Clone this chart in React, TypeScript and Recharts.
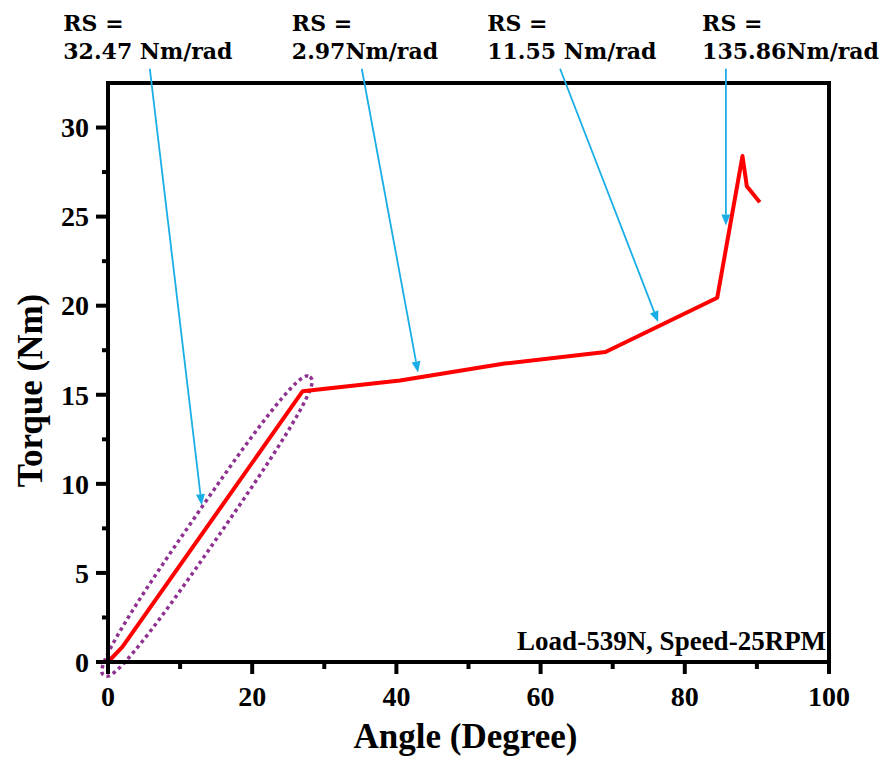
import React from 'react';
import {
  LineChart,
  Line,
  XAxis,
  YAxis,
  ReferenceLine,
  ReferenceArea,
  ReferenceDot,
  Label,
} from 'recharts';

// ---- data ----
const angle = [0, 2, 27, 40.5, 55, 69, 84.5, 88, 88.6, 90.4];
const torque = [0, 0.85, 15.2, 15.8, 16.75, 17.4, 20.45, 28.4, 26.7, 25.8];

const xTicks = [0, 10, 20, 30, 40, 50, 60, 70, 80, 90, 100];
const xMajor = [0, 20, 40, 60, 80, 100];
const yTicks = [0, 2.5, 5, 7.5, 10, 12.5, 15, 17.5, 20, 22.5, 25, 27.5, 30];
const yMajor = [0, 5, 10, 15, 20, 25, 30];

const rsTitle = 'RS =';
const rsValues = ['32.47 Nm/rad', '2.97Nm/rad', '11.55 Nm/rad', '135.86Nm/rad'];
const rsLabelX = [-6.2, 25.5, 52.6, 82.4];
const rsLabelY = 35.4;

const arrowFromX = [5.8, 35.2, 62.7, 85.7];
const arrowFromY = [33.3, 33.3, 33.3, 33.3];
const arrowToX = [13.0, 43.0, 76.3, 85.7];
const arrowToY = [8.8, 16.25, 19.08, 24.5];

const ellipseFrom = { x: -0.55, y: -0.75 };
const ellipseTo = { x: 28.0, y: 16.0 };

const conditionText = 'Load-539N, Speed-25RPM';
const conditionPos = { x: 99.6, y: 0.7 };

const xTitle = 'Angle (Degree)';
const yTitle = 'Torque (Nm)';

const chartData = angle.map((a, i) => ({ angle: a, torque: torque[i] }));

// ---- styles ----
const TIMES = '"Liberation Serif", "Times New Roman", serif';
const DEJAVU = '"DejaVu Serif", serif';
const ARROW = '#1aaee6';
const ELLIPSE = '#8e3191';

const XTick = (props: any) => {
  const { x, y, payload } = props;
  const major = xMajor.includes(payload.value);
  return (
    <g>
      <line x1={x} x2={x} y1={y} y2={y + (major ? 12 : 7)} stroke="#000" strokeWidth={4} />
      {major && (
        <text x={x} y={y + 44} textAnchor="middle" fontSize={28} fontWeight="bold" fontFamily={TIMES} fill="#000">
          {payload.value}
        </text>
      )}
    </g>
  );
};

const YTick = (props: any) => {
  const { x, y, payload } = props;
  const major = yMajor.includes(payload.value);
  return (
    <g>
      <line x1={x} x2={x - (major ? 12 : 6)} y1={y} y2={y} stroke="#000" strokeWidth={4} />
      {major && (
        <text x={x - 19} y={y} dy="0.35em" textAnchor="end" fontSize={28} fontWeight="bold" fontFamily={TIMES} fill="#000">
          {payload.value}
        </text>
      )}
    </g>
  );
};

const ArrowShape = (p: any) => {
  const { x1, y1, x2, y2 } = p;
  if ([x1, y1, x2, y2].some((v) => typeof v !== 'number')) return <g />;
  const dx = x2 - x1;
  const dy = y2 - y1;
  const len = Math.hypot(dx, dy) || 1;
  const ux = dx / len;
  const uy = dy / len;
  const hl = 11;
  const hw = 4.5;
  const bx = x2 - ux * hl;
  const by = y2 - uy * hl;
  const pts = `${x2},${y2} ${bx - uy * hw},${by + ux * hw} ${bx + uy * hw},${by - ux * hw}`;
  return (
    <g>
      <line x1={x1} y1={y1} x2={bx} y2={by} stroke={ARROW} strokeWidth={1.8} />
      <polygon points={pts} fill={ARROW} />
    </g>
  );
};

// rounded (superellipse) outline spanning the two segment ends
const EllipseShape = (p: any) => {
  const { x1, y1, x2, y2 } = p;
  if ([x1, y1, x2, y2].some((v) => typeof v !== 'number')) return <g />;
  const cx = (x1 + x2) / 2;
  const cy = (y1 + y2) / 2;
  const a = Math.hypot(x2 - x1, y2 - y1) / 2;
  const b = 15;
  const n = 2.7;
  const th = Math.atan2(y2 - y1, x2 - x1);
  const c = Math.cos(th);
  const s = Math.sin(th);
  const steps = 240;
  let d = '';
  for (let i = 0; i <= steps; i++) {
    const t = (i / steps) * Math.PI * 2;
    const ct = Math.cos(t);
    const st = Math.sin(t);
    const u = a * Math.sign(ct) * Math.pow(Math.abs(ct), 2 / n);
    const v = b * Math.sign(st) * Math.pow(Math.abs(st), 2 / n);
    const px = cx + u * c - v * s;
    const py = cy + u * s + v * c;
    d += `${i === 0 ? 'M' : 'L'}${px.toFixed(2)},${py.toFixed(2)}`;
  }
  d += 'Z';
  return (
    <path d={d} fill="none" stroke={ELLIPSE} strokeWidth={3.5} strokeDasharray="3.5 3.5" />
  );
};

const makeRsLabel = (value: string) => (p: any) => {
  const { cx, cy } = p;
  return (
    <g>
      <text x={cx} y={cy} fontSize={22} fontWeight="bold" fontFamily={DEJAVU} fill="#000">
        {rsTitle}
      </text>
      <text x={cx} y={cy + 28} fontSize={22} fontWeight="bold" fontFamily={DEJAVU} fill="#000">
        {value}
      </text>
    </g>
  );
};

const ConditionShape = (p: any) => {
  const { cx, cy } = p;
  return (
    <text x={cx} y={cy} textAnchor="end" fontSize={27} fontWeight="bold" fontFamily={TIMES} fill="#000">
      {conditionText}
    </text>
  );
};

const XTitle = (p: any) => {
  const vb = p.viewBox || { x: 0, y: 0, width: 0, height: 0 };
  return (
    <text x={vb.x + vb.width / 2 - 3} y={vb.y + 86} textAnchor="middle" fontSize={35} fontWeight="bold" fontFamily={TIMES} fill="#000">
      {xTitle}
    </text>
  );
};

const YTitle = (p: any) => {
  const vb = p.viewBox || { x: 0, y: 0, width: 0, height: 0 };
  const cx = vb.x + 42;
  const cy = vb.y + vb.height / 2 + 18;
  return (
    <text x={cx} y={cy} transform={`rotate(-90 ${cx} ${cy})`} textAnchor="middle" fontSize={35} fontWeight="bold" fontFamily={TIMES} fill="#000">
      {yTitle}
    </text>
  );
};

export default function App() {
  return (
    <div style={{ position: 'absolute', left: 0, top: 0, width: 885, height: 758, background: '#fff' }}>
      <LineChart
        width={885}
        height={758}
        data={chartData}
        margin={{ top: 83, right: 56, left: 0, bottom: 0 }}
      >
        <XAxis
          dataKey="angle"
          type="number"
          domain={[0, 100]}
          ticks={xTicks}
          interval={0}
          height={96}
          tickSize={0}
          tickMargin={0}
          tickLine={false}
          axisLine={{ stroke: '#000', strokeWidth: 4 }}
          tick={<XTick />}
          label={<Label content={<XTitle />} />}
        />
        <YAxis
          type="number"
          domain={[0, 32.5]}
          ticks={yTicks}
          interval={0}
          width={108}
          tickSize={0}
          tickMargin={0}
          tickLine={false}
          axisLine={{ stroke: '#000', strokeWidth: 4 }}
          tick={<YTick />}
          label={<Label content={<YTitle />} />}
        />
        <ReferenceArea
          x1={0}
          x2={100}
          y1={0}
          y2={32.5}
          fill="none"
          fillOpacity={0}
          stroke="#000"
          strokeWidth={4}
          ifOverflow="visible"
        />
        <ReferenceLine
          segment={[ellipseFrom, ellipseTo]}
          ifOverflow="visible"
          shape={EllipseShape}
        />
        <Line
          dataKey="torque"
          type="linear"
          stroke="#ff0000"
          strokeWidth={4}
          dot={false}
          activeDot={false}
          strokeLinejoin="round"
          isAnimationActive={false}
        />
        {arrowFromX.map((fx, i) => (
          <ReferenceLine
            key={`arrow-${i}`}
            segment={[
              { x: fx, y: arrowFromY[i] },
              { x: arrowToX[i], y: arrowToY[i] },
            ]}
            ifOverflow="visible"
            shape={ArrowShape}
          />
        ))}
        {rsValues.map((v, i) => (
          <ReferenceDot
            key={`rs-${i}`}
            x={rsLabelX[i]}
            y={rsLabelY}
            ifOverflow="visible"
            shape={makeRsLabel(v)}
          />
        ))}
        <ReferenceDot x={conditionPos.x} y={conditionPos.y} ifOverflow="visible" shape={ConditionShape} />
      </LineChart>
    </div>
  );
}
